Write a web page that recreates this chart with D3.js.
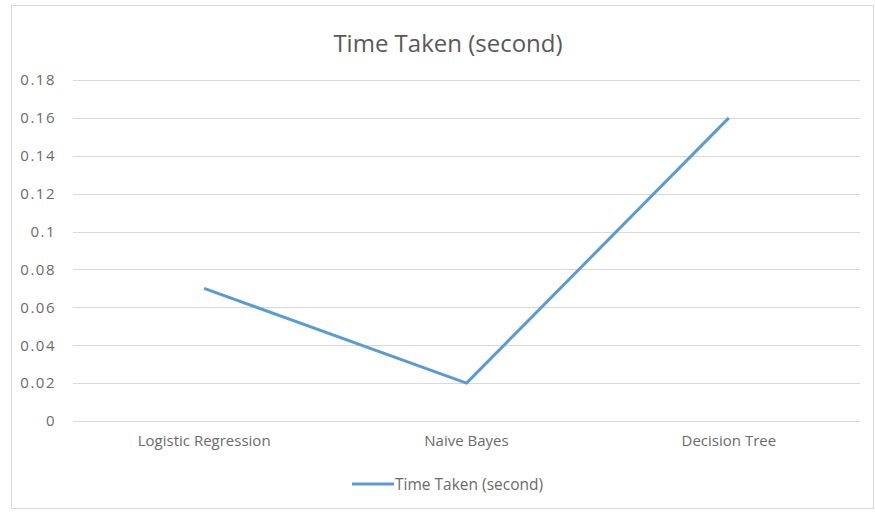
<!DOCTYPE html>
<html>
<head>
<meta charset="utf-8">
<script src="https://cdn.jsdelivr.net/npm/d3@7"></script>
<style>
  html, body { margin: 0; padding: 0; background: #fff; }
  svg { display: block; font-family: "Open Sans", "Noto Sans", sans-serif; }
</style>
</head>
<body>
<svg id="chart" width="875" height="512"></svg>
<script>
const categories = ["Logistic Regression", "Naive Bayes", "Decision Tree"];
const timeTaken = [0.07, 0.02, 0.16];
const yTicks = [0, 0.02, 0.04, 0.06, 0.08, 0.1, 0.12, 0.14, 0.16, 0.18];
const seriesName = "Time Taken (second)";
const chartTitle = "Time Taken (second)";

const svg = d3.select("#chart");
const plot = { left: 73, right: 860, top: 80, bottom: 421 };
const labelColor = "#6b6b6b";

// chart area frame
svg.append("rect")
  .attr("x", 11.5).attr("y", 5.5)
  .attr("width", 862).attr("height", 503)
  .attr("fill", "#fff").attr("stroke", "#d9d9d9").attr("stroke-width", 1);

const x = d3.scaleBand().domain(categories).range([plot.left, plot.right]);
const y = d3.scaleLinear().domain([0, 0.18]).range([plot.bottom, plot.top]);

// horizontal gridlines
svg.append("g")
  .selectAll("line")
  .data(yTicks)
  .join("line")
  .attr("x1", plot.left).attr("x2", plot.right)
  .attr("y1", d => Math.round(y(d)) + 0.5)
  .attr("y2", d => Math.round(y(d)) + 0.5)
  .attr("stroke", "#d9d9d9").attr("stroke-width", 1);

// y axis labels
const yAxis = d3.axisLeft(y).tickValues(yTicks).tickSize(0).tickPadding(0)
  .tickFormat(d => d3.format("~g")(d));
const yg = svg.append("g").attr("transform", `translate(${plot.left - 17},0)`).call(yAxis);
yg.select(".domain").remove();
yg.selectAll("text").attr("fill", labelColor).style("font-size", "15px")
  .style("letter-spacing", "1.5px")
  .style("font-family", "'Open Sans', sans-serif");

// x axis labels
const xAxis = d3.axisBottom(x).tickSize(0).tickPadding(0);
const xg = svg.append("g").attr("transform", `translate(0,${plot.bottom + 14})`).call(xAxis);
xg.select(".domain").remove();
xg.selectAll("text").attr("fill", labelColor).style("font-size", "15px")
  .style("font-family", "'Open Sans', sans-serif");

// series line
const line = d3.line()
  .x((d, i) => x(categories[i]) + x.bandwidth() / 2)
  .y(d => y(d));
svg.append("path")
  .datum(timeTaken)
  .attr("d", line)
  .attr("fill", "none")
  .attr("stroke", "#5b9bd5")
  .attr("stroke-width", 3)
  .attr("stroke-linejoin", "round");

// title
svg.append("text")
  .attr("x", 448).attr("y", 52)
  .attr("text-anchor", "middle")
  .attr("fill", "#595959")
  .style("font-size", "24px")
  .text(chartTitle);

// legend
const lg = svg.append("g").attr("transform", "translate(352,484)");
lg.append("line").attr("x1", 0).attr("x2", 42).attr("y1", 0).attr("y2", 0)
  .attr("stroke", "#5b9bd5").attr("stroke-width", 3);
lg.append("text").attr("x", 43).attr("y", 5.5)
  .attr("fill", labelColor).style("font-size", "15.5px")
  .text(seriesName);
</script>
</body>
</html>
